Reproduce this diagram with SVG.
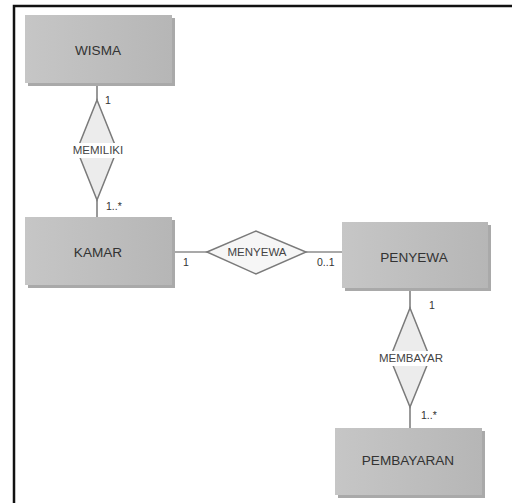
<svg xmlns="http://www.w3.org/2000/svg" width="512" height="503" viewBox="0 0 512 503">
<defs>
<linearGradient id="ent" x1="0" y1="0" x2="1" y2="0">
<stop offset="0" stop-color="#c6c6c6"/>
<stop offset="1" stop-color="#b6b6b6"/>
</linearGradient>
</defs>
<style>
.shadow{fill:#a9a9a9}
.box{fill:url(#ent)}
.et{font-family:"Liberation Sans",Arial,sans-serif;font-size:13.6px;fill:#333;text-anchor:middle}
.dia{fill:#ececec;stroke:#7a7a7a;stroke-width:1.5}
.dl{font-family:"Liberation Sans",Arial,sans-serif;font-size:11.5px;fill:#444;text-anchor:middle}
.lb{fill:#ffffff}
.card{font-family:"Liberation Sans",Arial,sans-serif;font-size:10.5px;fill:#333}
.conn line{stroke:#555;stroke-width:1.2}
</style>
<rect width="512" height="503" fill="#ffffff"/>
<path d="M14 503 V6 H512" fill="none" stroke="#111" stroke-width="2.5"/>
<g class="conn" id="connectors">
<line x1="97" y1="83" x2="97" y2="100"/>
<line x1="97" y1="200" x2="97" y2="217"/>
<line x1="172" y1="252" x2="207" y2="252"/>
<line x1="306" y1="252" x2="342" y2="252"/>
<line x1="410" y1="288" x2="410" y2="308"/>
<line x1="410" y1="407" x2="410" y2="428"/>
</g>
<g id="wisma">
<rect class="shadow" x="28" y="18" width="147" height="68"/>
<rect class="box" x="25" y="15" width="147" height="68"/>
<text class="et" x="98" y="55">WISMA</text>
</g>
<g id="kamar">
<rect class="shadow" x="28" y="220" width="147" height="68"/>
<rect class="box" x="25" y="217" width="147" height="68"/>
<text class="et" x="98" y="257">KAMAR</text>
</g>
<g id="penyewa">
<rect class="shadow" x="345" y="225" width="146" height="66"/>
<rect class="box" x="342" y="222" width="146" height="66"/>
<text class="et" x="414" y="262">PENYEWA</text>
</g>
<g id="pembayaran">
<rect class="shadow" x="338" y="431" width="147" height="67"/>
<rect class="box" x="335" y="428" width="147" height="67"/>
<text class="et" x="408" y="465">PEMBAYARAN</text>
</g>
<g id="memiliki">
<polygon class="dia" points="97,100 117,150 97,200 77,150"/>
<rect class="lb" x="71" y="143" width="54" height="15"/>
<text class="dl" x="98" y="154">MEMILIKI</text>
</g>
<g id="menyewa">
<polygon class="dia" style="fill:#f6f6f6" points="207,252 256,231 306,252 256,274"/>
<text class="dl" x="257" y="256">MENYEWA</text>
</g>
<g id="membayar">
<polygon class="dia" points="410,308 430,358 410,407 390,358"/>
<rect class="lb" x="375" y="351" width="71" height="15"/>
<text class="dl" x="411" y="362">MEMBAYAR</text>
</g>
<g id="cardinalities">
<text class="card" x="105" y="104">1</text>
<text class="card" x="106" y="210">1..*</text>
<text class="card" x="183" y="266">1</text>
<text class="card" x="317" y="266">0..1</text>
<text class="card" x="429" y="309">1</text>
<text class="card" x="421" y="419">1..*</text>
</g>
</svg>
